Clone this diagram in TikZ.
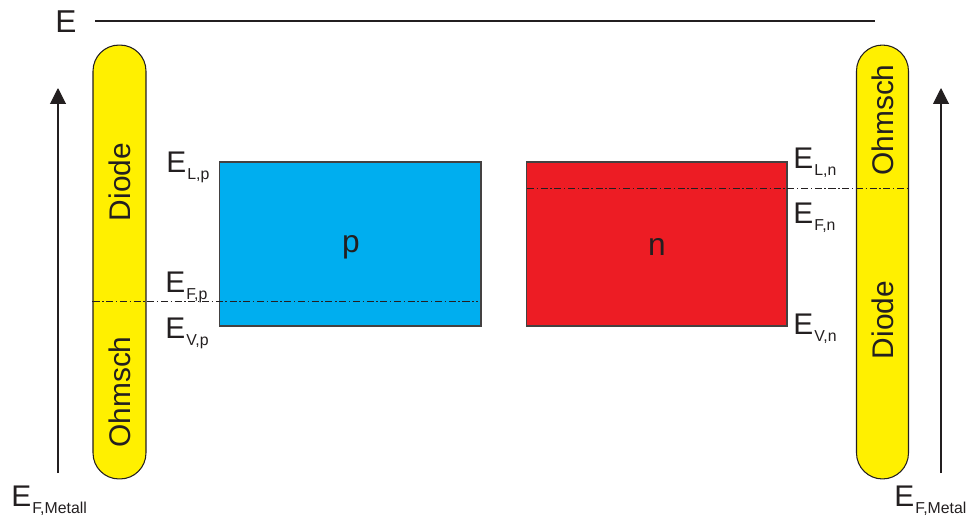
\documentclass[tikz,border=0pt]{standalone}
\usepackage{fontspec}
\setmainfont{Liberation Sans}
\usepackage{tikz}
\usetikzlibrary{arrows.meta}
\definecolor{pblue}{RGB}{0,174,239}
\definecolor{nred}{RGB}{237,28,36}
\definecolor{pillyel}{RGB}{255,240,0}
\definecolor{ink}{RGB}{35,31,32}
\newcommand{\Elvl}[1]{{\fontsize{17}{17}\selectfont E}\kern0.6pt\raisebox{-4pt}{\fontsize{9}{9}\selectfont #1}}

\begin{document}
\begin{tikzpicture}[x=0.02cm,y=-0.02cm,>={Triangle[length=9pt,width=9pt]},
  band/.style={draw=ink!85,line width=0.6pt,minimum height=3.28cm,inner sep=0pt},
  pill/.style={draw=ink,line width=0.6pt,fill=pillyel,rounded corners=0.52cm,minimum height=8.68cm,inner sep=0pt},
  rot/.style={rotate=90,inner sep=0pt,text=ink,font=\fontsize{17}{17}\selectfont},
  lvl/.style={anchor=base west,inner sep=0pt,text=ink},
  fermi/.style={ink,line width=0.5pt,dash pattern=on 4pt off 1.5pt on 0.8pt off 1.5pt},
  axis/.style={->,ink,line width=0.6pt}]
  \useasboundingbox (0,0) rectangle (968,515);
  % energy axis on top
  \node[lvl,font=\fontsize{18}{18}\selectfont] (E) at (55,32) {E};
  \coordinate (e0) at (95,21); \coordinate (e1) at (875,21);
  \draw[ink,line width=0.6pt] (e0)--(e1);
  % metal contacts
  \node[pill,minimum width=1.06cm] (lpill) at (119.5,262) {};
  \node[pill,minimum width=1.04cm] (rpill) at (882.5,262) {};
  \node[rot] (ldiode) at (120,182) {Diode};
  \node[rot] (lohm) at (120,392) {Ohmsch};
  \node[rot] (rohm) at (883,120) {Ohmsch};
  \node[rot] (rdiode) at (883,320) {Diode};
  % semiconductors
  \node[band,fill=pblue,minimum width=5.24cm] (p) at (350,244) {};
  \node[band,fill=nred,minimum width=5.22cm] (n) at (656.5,244) {};
  \node[text=ink,font=\fontsize{18}{18}\selectfont] (plab) at (351,247) {p};
  \node[text=ink,font=\fontsize{18}{18}\selectfont] (nlab) at (657,247) {n};
  % Fermi levels
  \coordinate (fp) at (478,301); \coordinate (fn) at (527,188);
  \draw[fermi] (lpill.west |- fp)--(fp);
  \draw[fermi] (fn)--(rpill.east |- fn);
  % level labels
  \node[lvl] (elp) at (166,172) {\Elvl{L,p}};
  \node[lvl] (efp) at (165,292) {\Elvl{F,p}};
  \node[lvl] (evp) at (165,338) {\Elvl{V,p}};
  \node[lvl] (eln) at (793,168) {\Elvl{L,n}};
  \node[lvl] (efn) at (793,223) {\Elvl{F,n}};
  \node[lvl] (evn) at (793,334) {\Elvl{V,n}};
  % metal Fermi levels
  \coordinate (la0) at (58,473); \coordinate (la1) at (58,88);
  \coordinate (ra0) at (941,473); \coordinate (ra1) at (941,88);
  \draw[axis] (la0)--(la1);
  \draw[axis] (ra0)--(ra1);
  \node[lvl] (efml) at (11,506) {\Elvl{F,Metall}};
  \node[lvl] (efmr) at (894,506) {\Elvl{F,Metal}};
\end{tikzpicture}
\end{document}
